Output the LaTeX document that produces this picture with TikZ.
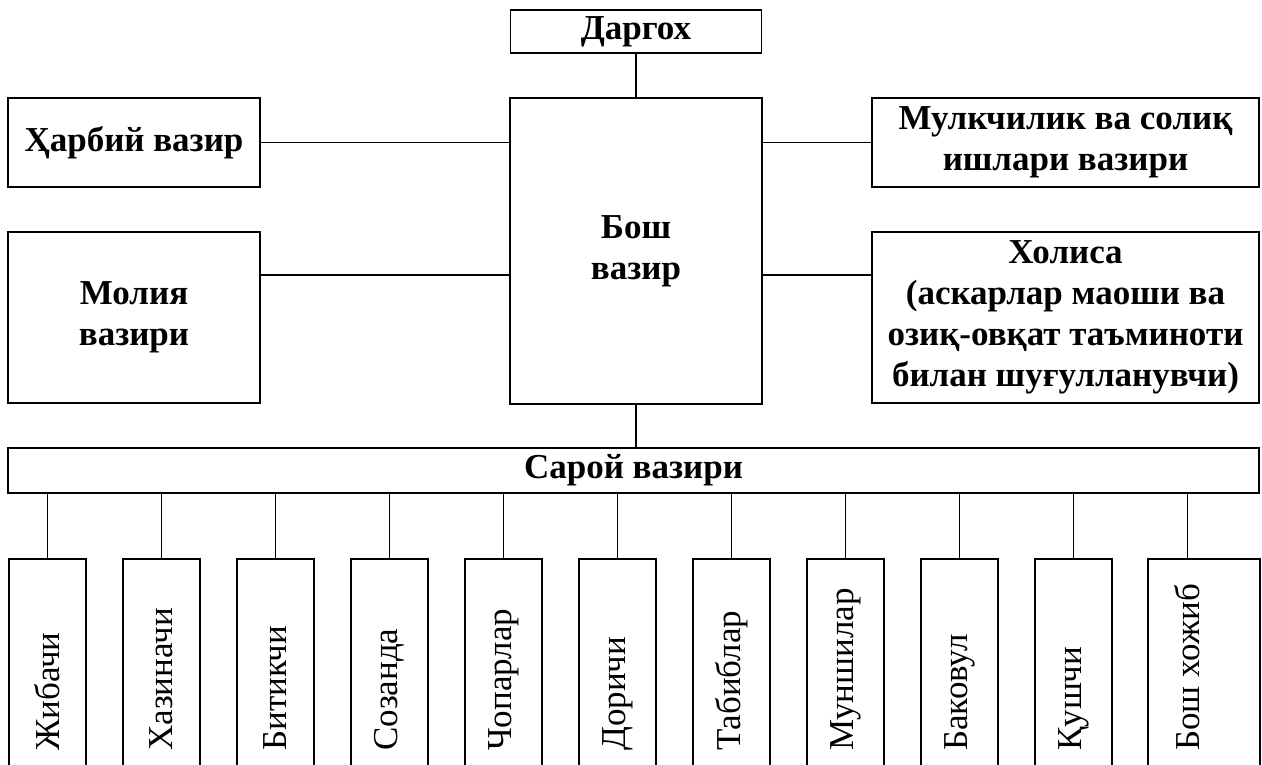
\documentclass[tikz,border=0pt]{standalone}
\usepackage{fontspec}
\setmainfont{Liberation Serif}
\usetikzlibrary{positioning}

\begin{document}
\begin{tikzpicture}[x=1pt, y=-1pt,
	unit/.style={draw, line width=1.4pt, inner sep=0pt, align=center,
		font=\bfseries\fontsize{35}{41}\selectfont},
	post/.style={draw, line width=1.4pt, inner sep=0pt, minimum width=77, minimum height=231},
	postname/.style={rotate=90, anchor=west, inner sep=0pt, font=\fontsize{35}{40}\selectfont},
	link/.style={line width=1.3pt}]
	\path[use as bounding box, clip] (0,0) rectangle (1262,765);
	\node[unit, minimum width=251, minimum height=43] (dargoh) at (636,31.5) {Даргох};
	\node[unit, minimum width=252, minimum height=306] (bosh) at (636,251) {Бош\\вазир};
	\node[unit, minimum width=252, minimum height=89] (harbiy) at (134,142.5) {Ҳарбий вазир};
	\node[unit, minimum width=252, minimum height=171] (moliya) at (134,317.5) {Молия\\вазири};
	\node[unit, minimum width=387, minimum height=89] (mulk) at (1065.5,142.5) {Мулкчилик ва солиқ\\ишлари вазири};
	\node[unit, minimum width=387, minimum height=171] (holisa) at (1065.5,317.5) {Холиса\\(аскарлар маоши ва\\озиқ-овқат таъминоти\\билан шуғулланувчи)};
	\node[unit, minimum width=1251, minimum height=45] (saroy) at (633.5,470.5) {Сарой вазири};
	\draw[link] (dargoh.south) -- (bosh.north);
	\draw[link] (harbiy.east) -- (harbiy.east -| bosh.west);
	\draw[link] ([yshift=42.5pt]moliya.east) -- ([yshift=42.5pt]moliya.east -| bosh.west);
	\draw[link] (mulk.west) -- (mulk.west -| bosh.east);
	\draw[link] ([yshift=42.5pt]holisa.west) -- ([yshift=42.5pt]holisa.west -| bosh.east);
	\draw[link] (bosh.south) -- (bosh.south |- saroy.north);
	\foreach \name/\txt [count=\i from 0] in {jib/Жибачи, haz/Хазиначи, bit/Битикчи, soz/Созанда, chop/Чопарлар, dor/Доричи, tab/Табиблар, mun/Муншилар, bak/Баковул, qush/Қушчи}{
		\node[post] (\name) at ({47.5+114*\i},674.5) {};
		\node[postname] at (\name.center |- 0,751) {\txt};
		\draw[link] (\name.north) -- (\name.north |- saroy.south);
	}
	\node[post, minimum width=112] (hojib) at (1204,674.5) {};
	\coordinate (hojibtop) at (1187.5,559);
	\node[postname] at (1187.5,751) {Бош хожиб};
	\draw[link] (hojibtop) -- (hojibtop |- saroy.south);
\end{tikzpicture}
\end{document}
